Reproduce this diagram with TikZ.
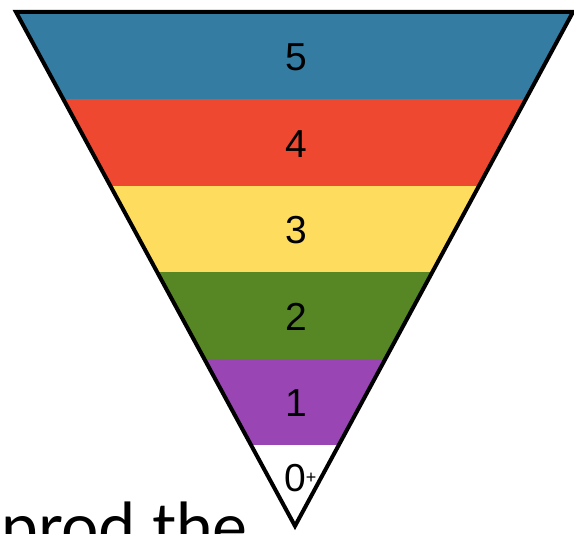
\documentclass[tikz,border=0pt]{standalone}
\usepackage{fontspec}
\setmainfont{Liberation Sans}
\newfontfamily\captionfont{Lato}
\usetikzlibrary{positioning}

\definecolor{lvlfive}{RGB}{53,124,163}
\definecolor{lvlfour}{RGB}{238,72,49}
\definecolor{lvlthree}{RGB}{253,220,94}
\definecolor{lvltwo}{RGB}{87,134,37}
\definecolor{lvlone}{RGB}{153,69,180}

\begin{document}
\begin{tikzpicture}[
    x=1pt, y=-1pt,
    level/.style={font=\fontsize{39}{39}\selectfont, text=black, inner sep=0pt},
    outline/.style={draw=black, line width=4pt, line join=miter}
]
    \clip (0,0) rectangle (574,534);

    % Bands
    \begin{scope}
        \clip (16,12) -- (573,12) -- (295,526) -- cycle;
        \fill[lvlfive]  (0,12)  rectangle (574,99);
        \fill[lvlfour]  (0,99)  rectangle (574,186);
        \fill[lvlthree] (0,186) rectangle (574,272);
        \fill[lvltwo]   (0,272) rectangle (574,359);
        \fill[lvlone]   (0,359) rectangle (574,445);
        \fill[white]    (0,445) rectangle (574,534);
    \end{scope}
    \draw[outline] (16,12) -- (573,12) -- (295,526) -- cycle;

    \node[level] (L5) at (296,57) {5};
    \node[level] (L4) at (296,144) {4};
    \node[level] (L3) at (296,230) {3};
    \node[level] (L2) at (296,317) {2};
    \node[level] (L1) at (296,403) {1};
    \node[level, anchor=base west] (L0) at (284,492) {0\raisebox{0.22em}{\fontsize{18}{18}\selectfont +}};

    % Cut-off caption
    \node[anchor=base east, inner sep=0pt, font=\captionfont\fontsize{66}{66}\selectfont] (caption) at (248,551) {prod the};
\end{tikzpicture}
\end{document}
